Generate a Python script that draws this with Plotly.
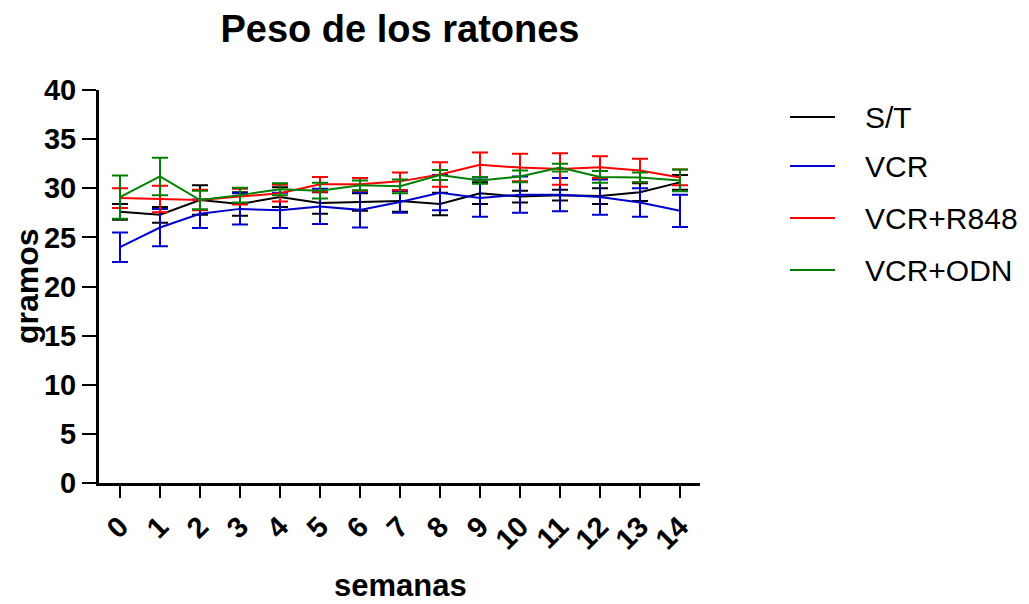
import plotly.graph_objects as go

weeks = list(range(15))
tick_labels = [str(w) for w in weeks]

st_mean = [27.6, 27.3, 28.8, 28.4, 29.1, 28.5, 28.6, 28.7, 28.4, 29.5, 29.15, 29.3, 29.2, 29.6, 30.6]
st_err = [0.8, 0.8, 1.5, 1.2, 1.0, 1.1, 0.9, 1.1, 1.15, 1.1, 0.6, 0.55, 0.8, 0.9, 0.75]

vcr_mean = [24.0, 26.0, 27.4, 27.9, 27.75, 28.15, 27.8, 28.6, 29.55, 29.0, 29.35, 29.35, 29.1, 28.55, 27.7]
vcr_err = [1.5, 1.9, 1.45, 1.6, 1.8, 1.8, 1.8, 1.1, 1.8, 1.9, 1.85, 1.7, 1.8, 1.45, 1.65]

r848_mean = [29.0, 28.9, 28.8, 29.15, 29.5, 30.4, 30.4, 30.7, 31.4, 32.4, 32.1, 31.95, 32.15, 31.8, 31.1]
r848_err = [1.0, 1.35, 1.05, 0.8, 0.85, 0.75, 0.65, 0.9, 1.25, 1.25, 1.4, 1.6, 1.1, 1.2, 0.8]

odn_mean = [29.1, 31.2, 28.8, 29.3, 29.9, 29.75, 30.3, 30.2, 31.35, 30.8, 31.2, 32.1, 31.15, 31.1, 30.8]
odn_err = [2.2, 1.9, 0.95, 0.75, 0.6, 0.8, 0.5, 0.7, 0.5, 0.35, 0.6, 0.4, 0.6, 0.5, 1.1]

series_names = ["S/T", "VCR", "VCR+R848", "VCR+ODN"]
series_means = [st_mean, vcr_mean, r848_mean, odn_mean]
series_errs = [st_err, vcr_err, r848_err, odn_err]
series_colors = ["#000000", "#0000CC", "#FF0000", "#008000"]

FONT = "Arial, Liberation Sans, sans-serif"

# figure geometry (page has an 8px body margin)
W, H = 1021, 596
L, R, T, B = 91, 692, 82, 475  # plot area in figure pixels


def px_x(px):
    return (px - L) / (R - L)


def px_y(py):
    return (B - py) / (B - T)


fig = go.Figure()
for name, m, e, c in zip(series_names, series_means, series_errs, series_colors):
    fig.add_trace(go.Scatter(
        x=weeks, y=m, name=name, mode="lines", showlegend=False,
        line=dict(color=c, width=2),
        error_y=dict(type="data", array=e, visible=True, color=c, thickness=2, width=8),
    ))

# legend drawn as line samples + text
legend_rows = [109, 158, 210, 262]
shapes = []
annotations = []
for name, c, ry in zip(series_names, series_colors, legend_rows):
    shapes.append(dict(type="line", xref="paper", yref="paper",
                       x0=px_x(782), x1=px_x(827), y0=px_y(ry), y1=px_y(ry),
                       line=dict(color=c, width=2)))
    annotations.append(dict(text=name, xref="paper", yref="paper", x=px_x(855), y=px_y(ry),
                            xanchor="left", yanchor="middle", showarrow=False,
                            font=dict(size=30, family=FONT, color="black")))

annotations.append(dict(text="<b>gramos</b>", xref="paper", yref="paper",
                        x=px_x(19), y=px_y(278), textangle=-90, showarrow=False,
                        xanchor="center", yanchor="middle",
                        font=dict(size=32, family=FONT, color="black")))
annotations.append(dict(text="<b>semanas</b>", xref="paper", yref="paper",
                        x=px_x(392), y=px_y(577), showarrow=False,
                        xanchor="center", yanchor="middle",
                        font=dict(size=31, family=FONT, color="black")))

fig.update_layout(
    width=W, height=H,
    margin=dict(l=L, r=W - R, t=T, b=H - B),
    plot_bgcolor="white", paper_bgcolor="white",
    font=dict(family=FONT, color="black"),
    title=dict(text="<b>Peso de los ratones</b>", x=392 / W, xanchor="center",
               y=1 - 21 / H, yanchor="middle", font=dict(size=38, family=FONT)),
    showlegend=False,
    shapes=shapes,
    annotations=annotations,
    xaxis=dict(
        range=[-0.525, 14.5], tickmode="array", tickvals=weeks, ticktext=tick_labels,
        tickangle=-45, ticks="outside", ticklen=12, tickwidth=2, tickcolor="black",
        showline=True, linewidth=3, linecolor="black", showgrid=False, zeroline=False,
        tickfont=dict(size=29, family=FONT, weight="bold"),
    ),
    yaxis=dict(
        range=[0, 40], tickmode="array", tickvals=[0, 5, 10, 15, 20, 25, 30, 35, 40],
        ticks="outside", ticklen=14, tickwidth=2, tickcolor="black",
        showline=True, linewidth=3, linecolor="black", showgrid=False, zeroline=False,
        tickfont=dict(size=29, family=FONT, weight="bold"),
    ),
)

fig.write_html("out.html")
